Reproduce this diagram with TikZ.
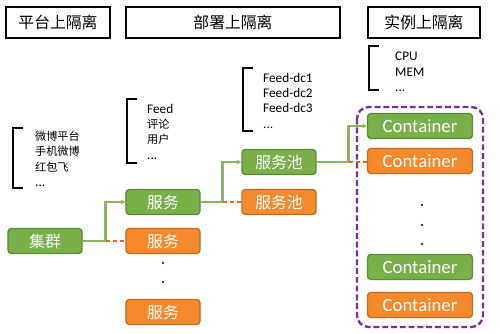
\documentclass[tikz,border=0pt]{standalone}
\usepackage{fontspec}
\setmainfont{Carlito}
\newfontfamily\cjk{Noto Sans CJK SC}
\usetikzlibrary{arrows.meta}
\definecolor{boxgreen}{HTML}{78B04A}
\definecolor{boxgreenedge}{HTML}{5C8C36}
\definecolor{boxorange}{HTML}{F48A2C}
\definecolor{boxorangeedge}{HTML}{C86A22}
\definecolor{linkgreen}{HTML}{8CB563}
\definecolor{linkorange}{HTML}{E0662A}
\definecolor{fencepurple}{HTML}{7B2C9E}
\newcommand{\sqbracket}[3]{%
  \draw[line width=2pt] (#1+10,#2) -- (#1,#2) -- (#1,#3) -- (#1+10,#3);%
}
\newcommand{\zh}[1]{{\cjk\fontsize{9.5}{13}\selectfont #1}}
\tikzset{
  layer/.style={draw=black, line width=2pt, minimum height=0.93cm,
    font=\cjk\fontsize{13.5}{15}\selectfont},
  greenbox/.style={fill=boxgreen, draw=boxgreenedge, line width=1.2pt,
    rounded corners=3pt, text=white, minimum width=2.22cm, minimum height=0.75cm,
    font=\cjk\fontsize{13.5}{15}\selectfont},
  orangebox/.style={greenbox, fill=boxorange, draw=boxorangeedge},
  ctgreen/.style={greenbox, minimum width=3.15cm, font=\fontsize{16}{17}\selectfont},
  ctorange/.style={ctgreen, fill=boxorange, draw=boxorangeedge},
  notes/.style={align=left, anchor=north west, inner sep=0pt,
    font=\fontsize{11.3}{13}\selectfont},
  greenlink/.style={draw=linkgreen, line width=2.4pt, -{Stealth[length=4pt,width=4pt]}},
  orangelink/.style={draw=linkorange, line width=1.5pt, dash pattern=on 4pt off 2pt},
}

\begin{document}
\begin{tikzpicture}[x=0.03cm, y=-0.03cm]
    \useasboundingbox (0,0) rectangle (500,334);

    % layer headings
    \node[layer, minimum width=3.12cm] (platform) at (58,22.5) {平台上隔离};
    \node[layer, minimum width=6.42cm] (deploy) at (233,22.5) {部署上隔离};
    \node[layer, minimum width=3.36cm] (instance) at (424,22.5) {实例上隔离};

    % brackets and their notes
    \sqbracket{13}{128}{188}
    \sqbracket{127}{99}{163}
    \sqbracket{243}{68}{131}
    \sqbracket{369}{46}{90}
    \node[notes] (apps) at (35,131) {\zh{微博平台}\\\zh{手机微博}\\\zh{红包飞}\\...};
    \node[notes] (services) at (147,104) {Feed\\\zh{评论}\\\zh{用户}\\...};
    \node[notes] (pools) at (263,73) {Feed-dc1\\Feed-dc2\\Feed-dc3\\...};
    \node[notes] (res) at (395,52) {CPU\\MEM\\...};

    % dots between boxes
    \foreach \y in {263,282,300} \fill (163,\y) circle (1.1);
    \foreach \y in {205,225,244} \fill (422,\y) circle (1.1);

    % container fence
    \draw[fencepurple, line width=2pt, dash pattern=on 5pt off 2.5pt, rounded corners=0.35cm]
      (357,107) rectangle (483,327);

    % boxes
    \node[greenbox] (cluster) at (45,241) {集群};
    \node[greenbox] (svc1) at (163,202) {服务};
    \node[orangebox] (svc2) at (163,241) {服务};
    \node[orangebox] (svc3) at (163,312) {服务};
    \node[greenbox] (pool1) at (279,162) {服务池};
    \node[orangebox] (pool2) at (279,202) {服务池};
    \node[ctgreen] (ct1) at (420,126) {Container};
    \node[ctorange] (ct2) at (420,161) {Container};
    \node[ctgreen] (ct3) at (420,267) {Container};
    \node[ctorange] (ct4) at (420,305) {Container};

    % links
    \draw[greenlink] (cluster.east) -- ++(23,0) coordinate (j1) |- (svc1.west);
    \draw[orangelink] (j1) -- (svc2.west);
    \draw[greenlink] (svc1.east) -- ++(22,0) coordinate (j2) |- (pool1.west);
    \draw[orangelink] (j2) -- (pool2.west);
    \draw[greenlink] (pool1.east) -- ++(32,0) coordinate (j3) |- (ct1.west);
    \draw[orangelink] (j3) -- (j3 -| ct2.west);
  \end{tikzpicture}
\end{document}
